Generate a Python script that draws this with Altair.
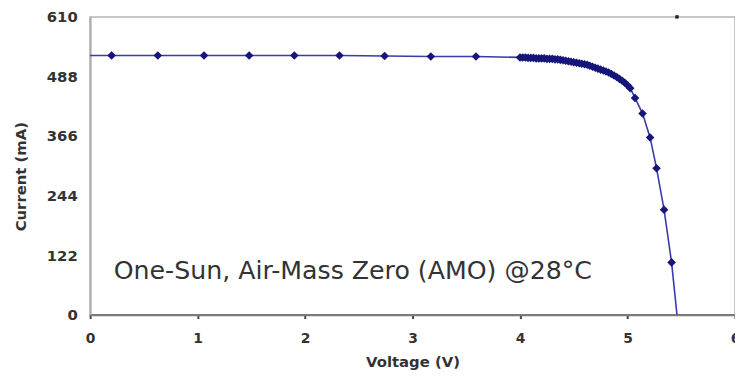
import altair as alt
import pandas as pd

# ---- data ----
flat_v = [0.0, 0.20, 0.63, 1.06, 1.48, 1.90, 2.32, 2.74, 3.17, 3.59]
flat_i = [531, 531, 531, 531, 531, 531, 531, 530, 529, 529]

knee_v = [4.00, 4.025, 4.05, 4.075, 4.10, 4.125, 4.15, 4.175, 4.20, 4.225,
          4.25, 4.275, 4.30, 4.325, 4.35, 4.375, 4.40, 4.425, 4.45, 4.475,
          4.50, 4.525, 4.55, 4.575, 4.60, 4.625, 4.65, 4.675, 4.70, 4.725,
          4.75, 4.775, 4.80, 4.825, 4.85, 4.875, 4.90, 4.925, 4.95, 4.975,
          5.00, 5.025]
knee_i = [527, 527, 527, 526, 526, 526, 525, 525, 525, 525,
          524, 524, 524, 523, 523, 522, 521, 520, 519, 518,
          517, 516, 515, 514, 513, 512, 510, 508, 506, 504,
          502, 500, 498, 496, 493, 490, 487, 483, 479, 475,
          470, 464]

drop_v = [5.07, 5.14, 5.21, 5.27, 5.34, 5.41, 5.46]
drop_i = [444, 412, 363, 300, 215, 107, 0]

stray_v = [5.46]
stray_i = [610]

x_ticks = [0, 1, 2, 3, 4, 5, 6]
y_ticks = [0, 122, 244, 366, 488, 610]

note_text = ["One-Sun, Air-Mass Zero (AMO) @28°C"]
note_v = [0.22]
note_i = [89]

curve = pd.DataFrame({"V": flat_v + knee_v + drop_v,
                      "I": flat_i + knee_i + drop_i})
stray = pd.DataFrame({"V": stray_v, "I": stray_i})
note = pd.DataFrame({"V": note_v, "I": note_i, "t": note_text})

FONT = "DejaVu Sans"

x_enc = alt.X("V:Q",
              scale=alt.Scale(domain=[0, 6], nice=False, zero=True),
              axis=alt.Axis(values=x_ticks, format="d", title="Voltage (V)", grid=False,
                            domainColor="#7a7a7a", domainWidth=2.5,
                            tickColor="#444444", tickSize=4, tickWidth=2,
                            labelFont=FONT, labelFontSize=14, labelFontWeight="bold",
                            labelColor="#333333", labelPadding=13,
                            labelFlush=False, labelOverlap=False, labelBound=False,
                            titleFont=FONT, titleFontSize=15, titleFontWeight="bold",
                            titleColor="#333333", titleY=47, titleBaseline="middle"))
y_enc = alt.Y("I:Q",
              scale=alt.Scale(domain=[0, 610], nice=False, zero=True),
              axis=alt.Axis(values=y_ticks, title="Current (mA)", grid=False,
                            domainColor="#aaaaaa", domainWidth=2, ticks=False,
                            labelFont=FONT, labelFontSize=15, labelFontWeight="bold",
                            labelColor="#333333", labelPadding=13,
                            labelFlush=False, labelOverlap=False,
                            titleFont=FONT, titleFontSize=15, titleFontWeight="bold",
                            titleColor="#333333", titleX=-70, titleY=161,
                            titleAlign="center", titleBaseline="middle", titleAngle=-90))

base = alt.Chart(curve).encode(x=x_enc, y=y_enc)

line = base.mark_line(color="#3a3aa8", strokeWidth=1.6)
points = base.transform_filter("datum.V > 0 && datum.I > 0").mark_point(
    shape="diamond", filled=True, size=75, color="#15157a", opacity=1)
stray_pt = alt.Chart(stray).mark_point(
    shape="square", filled=True, size=12, color="#222222", opacity=1, clip=False
).encode(x="V:Q", y="I:Q")
label = alt.Chart(note).mark_text(
    align="left", baseline="middle", font=FONT, fontSize=25.5, color="#333333"
).encode(x="V:Q", y="I:Q", text="t:N")

chart = alt.layer(line, points, stray_pt, label).properties(
    width=652, height=301,
    autosize=alt.AutoSizeParams(type="none"),
    padding={"left": 83, "top": 7, "right": 0, "bottom": 55},
).configure_view(stroke="#b5b5b5", strokeWidth=1.5)

chart.save("out.html", embed_options={"renderer": "svg", "actions": False})
